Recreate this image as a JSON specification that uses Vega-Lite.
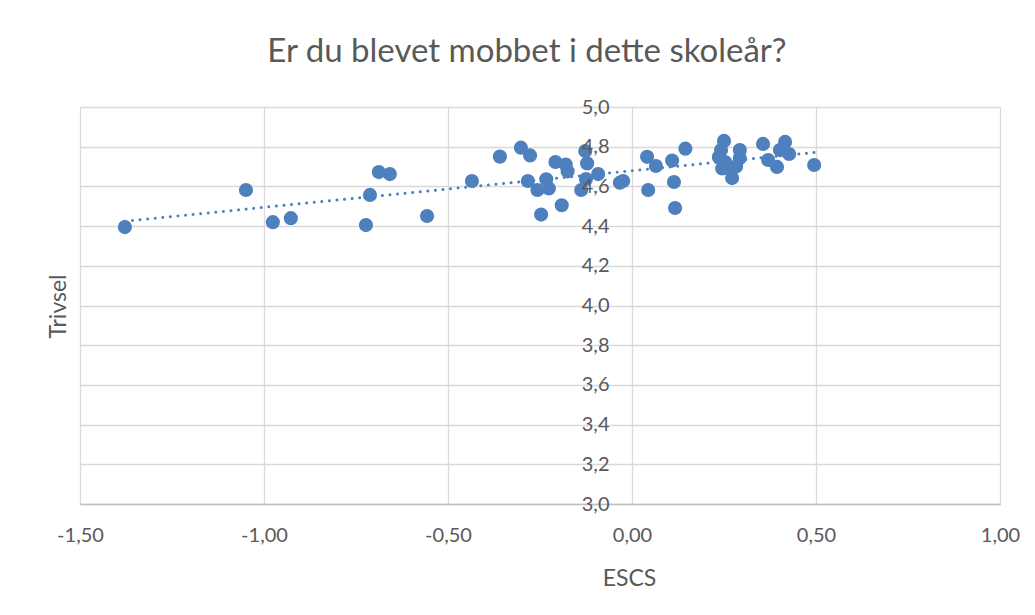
{
  "$schema": "https://vega.github.io/schema/vega-lite/v6.json",
  "width": 920,
  "height": 397,
  "autosize": {"type": "none"},
  "padding": {"left": 80, "top": 107, "right": 35, "bottom": 111},
  "background": "white",
  "config": {"view": {"stroke": null}},
  "title": {
    "text": "Er du blevet mobbet i dette skoleår?",
    "font": "Lato",
    "fontSize": 33,
    "fontWeight": "normal",
    "color": "#595959",
    "anchor": "middle",
    "offset": 28,
    "dx": -13
  },
  "data": {
    "values": [
      {"ESCS": -1.378, "Trivsel": 4.395},
      {"ESCS": -1.049, "Trivsel": 4.582},
      {"ESCS": -0.976, "Trivsel": 4.42},
      {"ESCS": -0.927, "Trivsel": 4.44},
      {"ESCS": -0.723, "Trivsel": 4.405},
      {"ESCS": -0.712, "Trivsel": 4.557},
      {"ESCS": -0.688, "Trivsel": 4.672},
      {"ESCS": -0.658, "Trivsel": 4.662},
      {"ESCS": -0.557, "Trivsel": 4.451},
      {"ESCS": -0.435, "Trivsel": 4.627},
      {"ESCS": -0.359, "Trivsel": 4.75},
      {"ESCS": -0.302, "Trivsel": 4.795},
      {"ESCS": -0.277, "Trivsel": 4.756},
      {"ESCS": -0.283, "Trivsel": 4.627},
      {"ESCS": -0.257, "Trivsel": 4.582},
      {"ESCS": -0.247, "Trivsel": 4.458},
      {"ESCS": -0.233, "Trivsel": 4.636},
      {"ESCS": -0.226, "Trivsel": 4.59},
      {"ESCS": -0.208, "Trivsel": 4.723},
      {"ESCS": -0.191, "Trivsel": 4.505},
      {"ESCS": -0.18, "Trivsel": 4.71},
      {"ESCS": -0.175, "Trivsel": 4.676},
      {"ESCS": -0.138, "Trivsel": 4.582},
      {"ESCS": -0.127, "Trivsel": 4.778},
      {"ESCS": -0.122, "Trivsel": 4.716},
      {"ESCS": -0.125, "Trivsel": 4.637},
      {"ESCS": -0.092, "Trivsel": 4.662},
      {"ESCS": -0.033, "Trivsel": 4.619},
      {"ESCS": -0.024, "Trivsel": 4.627},
      {"ESCS": 0.041, "Trivsel": 4.749},
      {"ESCS": 0.044, "Trivsel": 4.582},
      {"ESCS": 0.065, "Trivsel": 4.703},
      {"ESCS": 0.109, "Trivsel": 4.73},
      {"ESCS": 0.114, "Trivsel": 4.622},
      {"ESCS": 0.117, "Trivsel": 4.491},
      {"ESCS": 0.145, "Trivsel": 4.79},
      {"ESCS": 0.25, "Trivsel": 4.829},
      {"ESCS": 0.242, "Trivsel": 4.783},
      {"ESCS": 0.236, "Trivsel": 4.748},
      {"ESCS": 0.253, "Trivsel": 4.723},
      {"ESCS": 0.261, "Trivsel": 4.693},
      {"ESCS": 0.245, "Trivsel": 4.69},
      {"ESCS": 0.272, "Trivsel": 4.642},
      {"ESCS": 0.293, "Trivsel": 4.783},
      {"ESCS": 0.293, "Trivsel": 4.743},
      {"ESCS": 0.283, "Trivsel": 4.7},
      {"ESCS": 0.356, "Trivsel": 4.814},
      {"ESCS": 0.37, "Trivsel": 4.733},
      {"ESCS": 0.394, "Trivsel": 4.698},
      {"ESCS": 0.416, "Trivsel": 4.824},
      {"ESCS": 0.402, "Trivsel": 4.783},
      {"ESCS": 0.427, "Trivsel": 4.763},
      {"ESCS": 0.495, "Trivsel": 4.708}
    ]
  },
  "encoding": {
    "x": {
      "field": "ESCS",
      "type": "quantitative",
      "scale": {"domain": [-1.5, 1], "nice": false, "zero": false},
      "axis": {
        "values": [-1.5, -1, -0.5, 0, 0.5, 1],
        "grid": true,
        "gridColor": "#d9d9d9",
        "gridWidth": 1.3,
        "domainColor": "#bfbfbf",
        "domainWidth": 1.3,
        "ticks": false,
        "labelPadding": 21,
        "labelFlush": false,
        "labelOverlap": false,
        "labelBound": false,
        "labelFont": "Lato",
        "labelFontSize": 20,
        "labelColor": "#595959",
        "labelExpr": "replace(replace(format(datum.value, '.2f'), '.', ','), '\u2212', '-')",
        "title": "ESCS",
        "titleFont": "Lato",
        "titleFontSize": 23,
        "titleFontWeight": "normal",
        "titleColor": "#595959",
        "titleX": 549,
        "titleY": 74,
        "titleAlign": "center",
        "titleBaseline": "middle"
      }
    }
  },
  "layer": [
    {
      "transform": [{"regression": "Trivsel", "on": "ESCS"}],
      "mark": {
        "type": "line",
        "color": "#4e80bd",
        "strokeWidth": 3,
        "strokeDash": [0.01, 7.6],
        "strokeCap": "round"
      },
      "encoding": {
        "y": {
          "field": "Trivsel",
          "type": "quantitative",
          "scale": {"domain": [3, 5], "nice": false, "zero": false},
          "axis": {
            "orient": "left",
            "values": [3, 3.2, 3.4, 3.6, 3.8, 4, 4.2, 4.4, 4.6, 4.8, 5],
            "grid": true,
            "gridColor": "#d9d9d9",
            "gridWidth": 1.3,
            "labels": false,
            "ticks": false,
            "domain": false,
            "title": null,
            "zindex": 0
          }
        }
      }
    },
    {
      "mark": {"type": "circle", "size": 200, "color": "#4e80bd", "opacity": 1},
      "encoding": {
        "y": {
          "field": "Trivsel",
          "type": "quantitative",
          "scale": {"domain": [3, 5], "nice": false, "zero": false},
          "axis": {
            "orient": "left",
            "offset": -552,
            "values": [3, 3.2, 3.4, 3.6, 3.8, 4, 4.2, 4.4, 4.6, 4.8, 5],
            "grid": false,
            "domain": false,
            "ticks": false,
            "labelPadding": 23,
            "labelFont": "Lato",
            "labelFontSize": 20,
            "labelColor": "#595959",
            "labelOverlap": false,
            "labelBound": false,
            "labelExpr": "replace(format(datum.value, '.1f'), '.', ',')",
            "title": "Trivsel",
            "titleFont": "Lato",
            "titleFontSize": 23,
            "titleFontWeight": "normal",
            "titleColor": "#595959",
            "titleX": -574,
            "titleY": 199,
            "titleAngle": 270,
            "titleAlign": "center",
            "titleBaseline": "middle",
            "zindex": 1
          }
        }
      }
    }
  ],
  "resolve": {"axis": {"y": "independent"}}
}
